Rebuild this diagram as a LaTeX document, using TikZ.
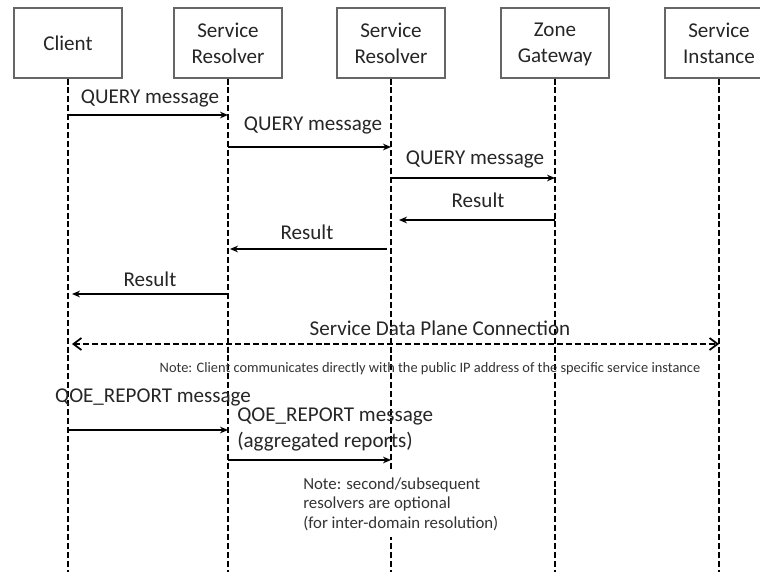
\documentclass[tikz,border=0pt]{standalone}
\usepackage{fontspec}
\setmainfont{Carlito}
\usetikzlibrary{arrows.meta}
\begin{document}
\begin{tikzpicture}[x=0.75pt,y=-0.75pt,
  actor/.style={draw=black!60, line width=0.8pt, fill=white, minimum width=81pt, minimum height=52.5pt,
    align=center, text=black!85, font=\fontsize{15.8}{19.5}\selectfont},
  life/.style={line width=1.4pt, dash pattern=on 4.5pt off 2.2pt},
  msg/.style={line width=1.1pt, -{Stealth[length=6pt,width=5pt]}},
  lbl/.style={inner sep=0pt, text=black!85, font=\fontsize{15.8}{19.5}\selectfont},
  note/.style={inner sep=0pt, text=black!80, align=left}]
\useasboundingbox (0,0) rectangle (760,571);
% participants
\node[actor] (cl) at (68,43) {Client};
\node[actor] (sr1) at (228,43) {Service\\Resolver};
\node[actor] (sr2) at (391,43) {Service\\Resolver};
\node[actor] (zg) at (555,43) {Zone\\\smash{Gateway}};
\node[actor] (si) at (719,43) {Service\\Instance};
\coordinate (bot) at (0,580);
\draw[life] (cl) -- (cl |- bot);
\draw[life] (sr1) -- (sr1 |- bot);
\draw[life] (sr2) -- (sr2 |- bot);
\draw[life] (zg) -- (zg |- bot);
\draw[life] (si) -- (si |- bot);
% rows
\coordinate (r1) at (0,115);
\coordinate (r2) at (0,147);
\coordinate (r3) at (0,178);
\coordinate (r4) at (0,220);
\coordinate (r5) at (0,249);
\coordinate (r6) at (0,294);
\coordinate (r7) at (0,344);
\coordinate (r8) at (0,430);
\coordinate (r9) at (0,460);
% query
\draw[msg] (cl |- r1) -- (sr1 |- r1);
\node[lbl] (q1) at (150,98) {QUERY message};
\draw[msg] (sr1 |- r2) -- (sr2 |- r2);
\node[lbl] (q2) at (313,125) {QUERY message};
\draw[msg] (sr2 |- r3) -- (zg |- r3);
\node[lbl] (q3) at (475,159) {QUERY message};
% results
\draw[msg, shorten >=6pt] (zg |- r4) -- (sr2 |- r4);
\node[lbl] (a1) at (478,200) {Result};
\draw[msg, shorten <=3pt, shorten >=1.5pt] (sr2 |- r5) -- (sr1 |- r5);
\node[lbl] (a2) at (307,232) {Result};
\draw[msg, shorten >=3pt] (sr1 |- r6) -- (cl |- r6);
\node[lbl] (a3) at (150,279) {Result};
% data plane
\draw[life, line width=1.3pt, {Straight Barb[length=6pt,width=9pt]}-{Straight Barb[length=6pt,width=9pt]}, shorten <=3pt] (cl |- r7) -- (si |- r7);
\node[lbl] (dp) at (440,328) {Service Data Plane Connection};
\node[note, font=\fontsize{10.8}{12}\selectfont] (n1) at (430,369) {Note: Client communicates directly with the public IP address of the specific service instance};
% qoe reports
\draw[msg] (cl |- r8) -- (sr1 |- r8);
\node[lbl] (qoe1) at (153,397) {QOE\_REPORT message};
\draw[msg] (sr1 |- r9) -- (sr2 |- r9);
\node[lbl, anchor=west, align=left] (qoe2) at (237,429) {QOE\_REPORT message\\(aggregated reports)};
\node[note, fill=white, inner ysep=5pt, anchor=west, font=\fontsize{12.6}{14.6}\selectfont] (n2) at (303,504) {Note: second/subsequent\\resolvers are optional\\(for inter-domain resolution)};
\end{tikzpicture}
\end{document}
